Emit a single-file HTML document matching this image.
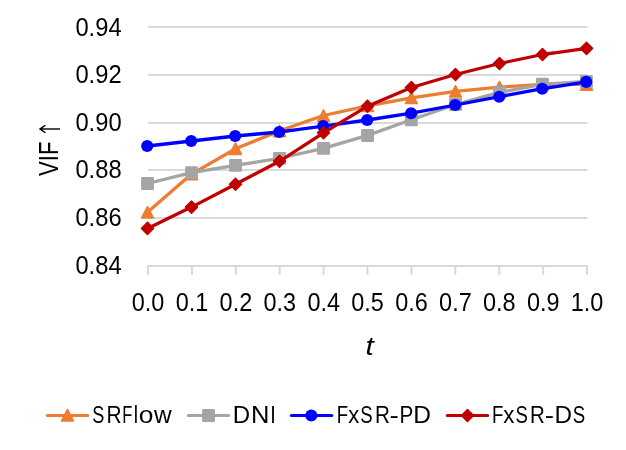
<!DOCTYPE html>
<html><head><meta charset="utf-8"><title>chart</title><style>html,body{margin:0;padding:0;background:#fff}svg{position:absolute;left:0;top:0}body{width:626px;height:450px;overflow:hidden;font-family:"Liberation Sans",sans-serif}</style></head><body>
<svg width="626" height="450" viewBox="0 0 626 450" style="display:block">
<rect width="626" height="450" fill="#fff"/>
<rect x="148" y="26" width="439.5" height="2" fill="#D9D9D9"/>
<rect x="148" y="74" width="439.5" height="2" fill="#D9D9D9"/>
<rect x="148" y="122" width="439.5" height="2" fill="#D9D9D9"/>
<rect x="148" y="169" width="439.5" height="2" fill="#D9D9D9"/>
<rect x="148" y="217" width="439.5" height="2" fill="#D9D9D9"/>
<rect x="148" y="265" width="439.5" height="2" fill="#D9D9D9"/>
<rect x="147.0" y="265" width="2" height="9.8" fill="#D9D9D9"/>
<rect x="190.9" y="265" width="2" height="9.8" fill="#D9D9D9"/>
<rect x="234.8" y="265" width="2" height="9.8" fill="#D9D9D9"/>
<rect x="278.7" y="265" width="2" height="9.8" fill="#D9D9D9"/>
<rect x="322.6" y="265" width="2" height="9.8" fill="#D9D9D9"/>
<rect x="366.5" y="265" width="2" height="9.8" fill="#D9D9D9"/>
<rect x="410.4" y="265" width="2" height="9.8" fill="#D9D9D9"/>
<rect x="454.3" y="265" width="2" height="9.8" fill="#D9D9D9"/>
<rect x="498.2" y="265" width="2" height="9.8" fill="#D9D9D9"/>
<rect x="542.1" y="265" width="2" height="9.8" fill="#D9D9D9"/>
<rect x="586.0" y="265" width="2" height="9.8" fill="#D9D9D9"/>
<g font-family="Liberation Sans, sans-serif" font-size="24.8" fill="#000" style="opacity:0.999">
<text x="75.4" y="35.80" font-size="26.1" textLength="46.2" lengthAdjust="spacingAndGlyphs">0.94</text>
<text x="75.4" y="83.35" font-size="26.1" textLength="46.2" lengthAdjust="spacingAndGlyphs">0.92</text>
<text x="75.4" y="130.90" font-size="26.1" textLength="46.2" lengthAdjust="spacingAndGlyphs">0.90</text>
<text x="75.4" y="178.45" font-size="26.1" textLength="46.2" lengthAdjust="spacingAndGlyphs">0.88</text>
<text x="75.4" y="226.00" font-size="26.1" textLength="46.2" lengthAdjust="spacingAndGlyphs">0.86</text>
<text x="75.4" y="273.55" font-size="26.1" textLength="46.2" lengthAdjust="spacingAndGlyphs">0.84</text>
<text x="131.8" y="310.7" font-size="26.1" textLength="32.6" lengthAdjust="spacingAndGlyphs">0.0</text>
<text x="175.7" y="310.7" font-size="26.1" textLength="32.6" lengthAdjust="spacingAndGlyphs">0.1</text>
<text x="219.6" y="310.7" font-size="26.1" textLength="32.6" lengthAdjust="spacingAndGlyphs">0.2</text>
<text x="263.5" y="310.7" font-size="26.1" textLength="32.6" lengthAdjust="spacingAndGlyphs">0.3</text>
<text x="307.4" y="310.7" font-size="26.1" textLength="32.6" lengthAdjust="spacingAndGlyphs">0.4</text>
<text x="351.3" y="310.7" font-size="26.1" textLength="32.6" lengthAdjust="spacingAndGlyphs">0.5</text>
<text x="395.2" y="310.7" font-size="26.1" textLength="32.6" lengthAdjust="spacingAndGlyphs">0.6</text>
<text x="439.1" y="310.7" font-size="26.1" textLength="32.6" lengthAdjust="spacingAndGlyphs">0.7</text>
<text x="483.0" y="310.7" font-size="26.1" textLength="32.6" lengthAdjust="spacingAndGlyphs">0.8</text>
<text x="526.9" y="310.7" font-size="26.1" textLength="32.6" lengthAdjust="spacingAndGlyphs">0.9</text>
<text x="570.8" y="310.7" font-size="26.1" textLength="32.6" lengthAdjust="spacingAndGlyphs">1.0</text>
<text x="365.5" y="355.2" font-size="26.2" font-style="italic" textLength="8.3" lengthAdjust="spacingAndGlyphs">t</text>
<g transform="translate(58,176.0) rotate(-90)"><text x="0" y="0" font-size="27" textLength="34.4" lengthAdjust="spacingAndGlyphs">VIF</text><path d="M47,-17.6 L47,2 M43.2,-12.6 L47,-18 L50.8,-12.6" fill="none" stroke="#000" stroke-width="1.4"/></g>
<text transform="translate(92.15,422.6) scale(0.732,1)">S</text>
<text transform="translate(106.46,422.6) scale(0.842,1)">R</text>
<text transform="translate(122.32,422.6) scale(0.664,1)">F</text>
<text transform="translate(133.82,422.6) scale(0.780,1)">l</text>
<text transform="translate(138.77,422.6) scale(1.063,1)">o</text>
<text transform="translate(154.01,422.6) scale(0.986,1)">w</text>
<text transform="translate(232.80,422.6) scale(0.970,1)">D</text>
<text transform="translate(250.88,422.6) scale(1.029,1)">N</text>
<text transform="translate(270.24,422.6) scale(0.800,1)">I</text>
<text transform="translate(336.86,422.6) scale(0.747,1)">F</text>
<text transform="translate(348.13,422.6) scale(0.890,1)">x</text>
<text transform="translate(360.33,422.6) scale(0.749,1)">S</text>
<text transform="translate(374.88,422.6) scale(0.832,1)">R</text>
<text transform="translate(389.53,422.6) scale(1.131,1)">-</text>
<text transform="translate(399.42,422.6) scale(0.837,1)">P</text>
<text transform="translate(413.16,422.6) scale(0.991,1)">D</text>
<text transform="translate(492.00,422.6) scale(0.751,1)">F</text>
<text transform="translate(503.22,422.6) scale(0.898,1)">x</text>
<text transform="translate(515.48,422.6) scale(0.749,1)">S</text>
<text transform="translate(530.00,422.6) scale(0.825,1)">R</text>
<text transform="translate(544.69,422.6) scale(1.123,1)">-</text>
<text transform="translate(554.58,422.6) scale(0.980,1)">D</text>
<text transform="translate(572.83,422.6) scale(0.753,1)">S</text>
</g>
<polyline points="147.5,212.3 191.5,174.1 235.5,148.7 279.5,130.9 323.5,115.5 367.5,105.8 411.4,97.8 455.5,91.3 499.5,87.2 542.5,84.3 586.5,84.4" fill="none" stroke="#ED7D31" stroke-width="3.3" stroke-linejoin="round" stroke-linecap="round"/>
<path d="M147.5,206.55 L153.5,218.05 L141.5,218.05 Z" fill="#ED7D31" stroke="#ED7D31" stroke-width="1.5" stroke-linejoin="round"/>
<path d="M191.5,168.35 L197.5,179.85 L185.5,179.85 Z" fill="#ED7D31" stroke="#ED7D31" stroke-width="1.5" stroke-linejoin="round"/>
<path d="M235.5,142.95 L241.5,154.45 L229.5,154.45 Z" fill="#ED7D31" stroke="#ED7D31" stroke-width="1.5" stroke-linejoin="round"/>
<path d="M279.5,125.15 L285.5,136.65 L273.5,136.65 Z" fill="#ED7D31" stroke="#ED7D31" stroke-width="1.5" stroke-linejoin="round"/>
<path d="M323.5,109.75 L329.5,121.25 L317.5,121.25 Z" fill="#ED7D31" stroke="#ED7D31" stroke-width="1.5" stroke-linejoin="round"/>
<path d="M367.5,100.05 L373.5,111.55 L361.5,111.55 Z" fill="#ED7D31" stroke="#ED7D31" stroke-width="1.5" stroke-linejoin="round"/>
<path d="M411.4,92.05 L417.4,103.55 L405.4,103.55 Z" fill="#ED7D31" stroke="#ED7D31" stroke-width="1.5" stroke-linejoin="round"/>
<path d="M455.5,85.55 L461.5,97.05 L449.5,97.05 Z" fill="#ED7D31" stroke="#ED7D31" stroke-width="1.5" stroke-linejoin="round"/>
<path d="M499.5,81.45 L505.5,92.95 L493.5,92.95 Z" fill="#ED7D31" stroke="#ED7D31" stroke-width="1.5" stroke-linejoin="round"/>
<path d="M542.5,78.55 L548.5,90.05 L536.5,90.05 Z" fill="#ED7D31" stroke="#ED7D31" stroke-width="1.5" stroke-linejoin="round"/>
<path d="M586.5,78.65 L592.5,90.15 L580.5,90.15 Z" fill="#ED7D31" stroke="#ED7D31" stroke-width="1.5" stroke-linejoin="round"/>
<polyline points="147.5,183.5 191.5,172.7 235.5,165.3 279.5,158.3 323.5,148.3 367.5,135.4 411.4,119.8 455.5,104.5 499.5,92.3 542.5,84.3 586.5,81.5" fill="none" stroke="#A5A5A5" stroke-width="3.3" stroke-linejoin="round" stroke-linecap="round"/>
<rect x="141.1" y="177.1" width="12.9" height="12.9" rx="1.2" fill="#A5A5A5"/>
<rect x="185.1" y="166.2" width="12.9" height="12.9" rx="1.2" fill="#A5A5A5"/>
<rect x="229.1" y="158.9" width="12.9" height="12.9" rx="1.2" fill="#A5A5A5"/>
<rect x="273.1" y="151.9" width="12.9" height="12.9" rx="1.2" fill="#A5A5A5"/>
<rect x="317.1" y="141.9" width="12.9" height="12.9" rx="1.2" fill="#A5A5A5"/>
<rect x="361.1" y="129.0" width="12.9" height="12.9" rx="1.2" fill="#A5A5A5"/>
<rect x="404.9" y="113.3" width="12.9" height="12.9" rx="1.2" fill="#A5A5A5"/>
<rect x="449.1" y="98.0" width="12.9" height="12.9" rx="1.2" fill="#A5A5A5"/>
<rect x="493.1" y="85.8" width="12.9" height="12.9" rx="1.2" fill="#A5A5A5"/>
<rect x="536.0" y="77.8" width="12.9" height="12.9" rx="1.2" fill="#A5A5A5"/>
<rect x="580.0" y="75.0" width="12.9" height="12.9" rx="1.2" fill="#A5A5A5"/>
<polyline points="147.5,146.0 191.5,141.0 235.5,136.0 279.5,132.0 323.5,126.1 367.5,120.0 411.4,113.2 455.5,105.0 499.5,96.7 542.5,88.7 586.5,81.9" fill="none" stroke="#0000FF" stroke-width="3.3" stroke-linejoin="round" stroke-linecap="round"/>
<circle cx="147.2" cy="146.0" r="6.05" fill="#0000FF"/>
<circle cx="191.2" cy="141.0" r="6.05" fill="#0000FF"/>
<circle cx="235.2" cy="136.0" r="6.05" fill="#0000FF"/>
<circle cx="279.2" cy="132.0" r="6.05" fill="#0000FF"/>
<circle cx="323.2" cy="126.1" r="6.05" fill="#0000FF"/>
<circle cx="367.2" cy="120.0" r="6.05" fill="#0000FF"/>
<circle cx="411.1" cy="113.2" r="6.05" fill="#0000FF"/>
<circle cx="455.2" cy="105.0" r="6.05" fill="#0000FF"/>
<circle cx="499.2" cy="96.7" r="6.05" fill="#0000FF"/>
<circle cx="542.2" cy="88.7" r="6.05" fill="#0000FF"/>
<circle cx="586.2" cy="81.9" r="6.05" fill="#0000FF"/>
<polyline points="147.5,228.4 191.5,207.1 235.5,184.3 279.5,161.3 323.5,132.8 367.5,106.2 411.4,87.5 455.5,74.5 499.5,63.5 542.5,54.5 586.5,48.4" fill="none" stroke="#C00000" stroke-width="3.3" stroke-linejoin="round" stroke-linecap="round"/>
<path d="M147.5,222.4 L153.5,228.4 L147.5,234.4 L141.5,228.4 Z" fill="#C00000" stroke="#C00000" stroke-width="1.5" stroke-linejoin="round"/>
<path d="M191.5,201.1 L197.5,207.1 L191.5,213.1 L185.5,207.1 Z" fill="#C00000" stroke="#C00000" stroke-width="1.5" stroke-linejoin="round"/>
<path d="M235.5,178.3 L241.5,184.3 L235.5,190.3 L229.5,184.3 Z" fill="#C00000" stroke="#C00000" stroke-width="1.5" stroke-linejoin="round"/>
<path d="M279.5,155.3 L285.5,161.3 L279.5,167.3 L273.5,161.3 Z" fill="#C00000" stroke="#C00000" stroke-width="1.5" stroke-linejoin="round"/>
<path d="M323.5,126.8 L329.5,132.8 L323.5,138.8 L317.5,132.8 Z" fill="#C00000" stroke="#C00000" stroke-width="1.5" stroke-linejoin="round"/>
<path d="M367.5,100.2 L373.5,106.2 L367.5,112.2 L361.5,106.2 Z" fill="#C00000" stroke="#C00000" stroke-width="1.5" stroke-linejoin="round"/>
<path d="M411.4,81.5 L417.4,87.5 L411.4,93.5 L405.4,87.5 Z" fill="#C00000" stroke="#C00000" stroke-width="1.5" stroke-linejoin="round"/>
<path d="M455.5,68.5 L461.5,74.5 L455.5,80.5 L449.5,74.5 Z" fill="#C00000" stroke="#C00000" stroke-width="1.5" stroke-linejoin="round"/>
<path d="M499.5,57.5 L505.5,63.5 L499.5,69.5 L493.5,63.5 Z" fill="#C00000" stroke="#C00000" stroke-width="1.5" stroke-linejoin="round"/>
<path d="M542.5,48.5 L548.5,54.5 L542.5,60.5 L536.5,54.5 Z" fill="#C00000" stroke="#C00000" stroke-width="1.5" stroke-linejoin="round"/>
<path d="M586.5,42.4 L592.5,48.4 L586.5,54.4 L580.5,48.4 Z" fill="#C00000" stroke="#C00000" stroke-width="1.5" stroke-linejoin="round"/>
<line x1="47.4" y1="415.5" x2="87.6" y2="415.5" stroke="#ED7D31" stroke-width="3.2" stroke-linecap="round"/>
<path d="M67.5,409.45 L73.5,420.95 L61.5,420.95 Z" fill="#ED7D31" stroke="#ED7D31" stroke-width="1.5" stroke-linejoin="round"/>
<line x1="188.4" y1="415.5" x2="228.6" y2="415.5" stroke="#A5A5A5" stroke-width="3.2" stroke-linecap="round"/>
<rect x="202.1" y="409.1" width="12.9" height="12.9" rx="1.2" fill="#A5A5A5"/>
<line x1="291.5" y1="415.5" x2="331.70000000000005" y2="415.5" stroke="#0000FF" stroke-width="3.2" stroke-linecap="round"/>
<circle cx="311.3" cy="415.5" r="6.05" fill="#0000FF"/>
<line x1="447.4" y1="415.5" x2="487.6" y2="415.5" stroke="#C00000" stroke-width="3.2" stroke-linecap="round"/>
<path d="M467.5,409.5 L473.5,415.5 L467.5,421.5 L461.5,415.5 Z" fill="#C00000" stroke="#C00000" stroke-width="1.5" stroke-linejoin="round"/>
</svg>
</body></html>
